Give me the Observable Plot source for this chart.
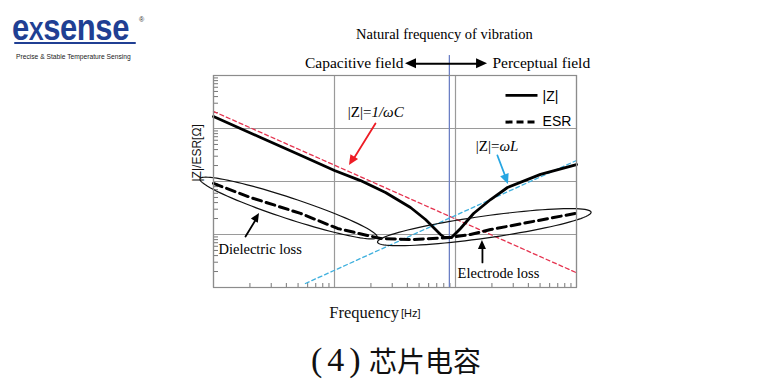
<!DOCTYPE html>
<html>
<head>
<meta charset="utf-8">
<script src="https://cdn.jsdelivr.net/npm/d3@7"></script>
<script src="https://cdn.jsdelivr.net/npm/@observablehq/plot@0.6"></script>
<style>
  body { margin: 0; background: #fff; }
  #wrap { position: relative; width: 780px; height: 390px; overflow: hidden; background: #fff; }
  #chart { position: absolute; left: 0; top: 0; }
  #brand { position: absolute; left: 12px; top: 10px; font: bold 36px/36px "Liberation Sans", Arial, sans-serif; color: #203f93; transform: scaleX(0.86); transform-origin: left top; letter-spacing: -0.5px; white-space: nowrap; }
  #brand .X { font-size: 26px; }
  #swoosh { position: absolute; left: 14px; top: 42px; width: 122px; height: 2px; background: #203f93; border-radius: 1px; }
  #tag { position: absolute; left: 16px; top: 52px; font: 6.7px/10px "Liberation Sans", Arial, sans-serif; color: #222; white-space: nowrap; }
  #reg { position: absolute; left: 139px; top: 16px; font: 7px/8px "Liberation Sans", Arial, sans-serif; color: #333; }
  #capnum { position: absolute; left: 311px; top: 343px; font: 34px/34px "Liberation Serif", serif; letter-spacing: 5px; color: #111; white-space: nowrap; }
  #captxt { position: absolute; left: 369px; top: 346px; font: 28px/28px "Noto Sans CJK SC", sans-serif; color: #111; white-space: nowrap; }
</style>
</head>
<body>
<div id="wrap">
  <div id="chart"></div>
  <div id="brand">e<span class="X">X</span>sense</div>
  <div id="swoosh"></div>
  <div id="reg">®</div>
  <div id="tag">Precise &amp; Stable Temperature Sensing</div>
  <div id="capnum">(4)</div>
  <div id="captxt">芯片电容</div>
</div>
<script>
// ---- data (frequency in Hz, impedance in Ω) ----
const freqZ = [1e5, 2.45e5, 5.24e5, 1e6, 1.64e6, 2.64e6, 4.25e6, 5.65e6, 7.52e6, 8.11e6, 9.27e6, 1.10e7, 1.41e7, 1.95e7, 2.69e7, 5.04e7, 1e8];
const valZ  = [16.8, 6.77, 3.12, 1.61, 1.04, 0.62, 0.323, 0.192, 0.10, 0.0877, 0.0877, 0.130, 0.249, 0.457, 0.771, 1.36, 2.09];

const freqESR = [1e5, 2.02e5, 5.24e5, 1.06e6, 1.87e6, 2.40e6, 4.25e6, 9.10e6, 1.33e7, 1.95e7, 3.94e7, 9.8e7];
const valESR  = [0.92, 0.50, 0.25, 0.13, 0.096, 0.084, 0.080, 0.088, 0.10, 0.124, 0.168, 0.25];

const freqC = [1e5, 1e8];      // |Z| = 1/ωC asymptote
const valC  = [21, 0.019];
const freqL = [5.75e5, 1e8];   // |Z| = ωL asymptote
const valL  = [0.0119, 2.49];

const resonance = 8.9e6;
const decadesX = [1e5, 1e6, 1e7, 1e8];
const decadesY = [0.01, 0.1, 1, 10, 100];
const minorMult = [2, 3, 4, 5, 6, 7, 8, 9];
const minorX = [1e5, 1e6, 1e7].flatMap(d => minorMult.map(k => k * d));
const minorY = [0.01, 0.1, 1, 10].flatMap(d => minorMult.map(k => k * d));

// ---- annotations (data coordinates) ----
const serif = "'Liberation Serif', 'Times New Roman', serif";
const sans = "'Liberation Sans', Arial, sans-serif";
const labels = [
  {f: 8.11e6, v: 609, text: "Natural frequency of vibration", anchor: "middle", size: 14.5, style: "normal", font: serif},
  {f: 3.72e6, v: 170, text: "Capacitive field", anchor: "end", size: 15.5, style: "normal", font: serif},
  {f: 2.02e7, v: 170, text: "Perceptual field", anchor: "start", size: 15.5, style: "normal", font: serif},
  {f: 2.02e6, v: 20, text: "|Z|=", anchor: "end", size: 15, style: "normal", font: serif},
  {f: 2.02e6, v: 20, text: "1/ωC", anchor: "start", size: 15, style: "italic", font: serif},
  {f: 2.31e7, v: 4.57, text: "|Z|=", anchor: "end", size: 15, style: "normal", font: serif},
  {f: 2.31e7, v: 4.57, text: "ωL", anchor: "start", size: 15, style: "italic", font: serif},
  {f: 1.10e5, v: 0.0534, text: "Dielectric loss", anchor: "start", size: 14.5, style: "normal", font: serif},
  {f: 1.04e7, v: 0.0184, text: "Electrode loss", anchor: "start", size: 14.5, style: "normal", font: serif},
  {f: 5.24e7, v: 39.3, text: "|Z|", anchor: "start", size: 14, style: "normal", font: sans},
  {f: 5.24e7, v: 13.4, text: "ESR", anchor: "start", size: 14, style: "normal", font: sans}
];
const legendLines = [
  {f1: 2.59e7, f2: 4.76e7, v: 42, dash: null},
  {f1: 2.59e7, f2: 4.76e7, v: 13.2, dash: "7,4"}
];
const arrows = [
  {f1: 2.18e6, v1: 12.4, f2: 1.33e6, v2: 2.0, color: "#ee1c25", len: 10, w: 4.5},
  {f1: 2.22e7, v1: 3.10, f2: 2.74e7, v2: 0.877, color: "#27a6e2", len: 10, w: 4.5},
  {f1: 1.84e5, v1: 0.0916, f2: 2.40e5, v2: 0.249, color: "#000000", len: 9, w: 4},
  {f1: 1.67e7, v1: 0.0297, f2: 1.67e7, v2: 0.0771, color: "#000000", len: 9, w: 4}
];
const doubleArrow = [{f1: 3.86e6, f2: 1.84e7, v: 166}];
const ellipses = [
  {center: [4.17e5, 0.316], major: [2.25e6, 0.0889], minor: [3.91e5, 0.205]},
  {center: [1.73e7, 0.1375], major: [1.32e8, 0.2637], minor: [1.78e7, 0.0855]}
];

const zRows = freqZ.map((f, i) => ({f, v: valZ[i]}));
const esrRows = freqESR.map((f, i) => ({f, v: valESR[i]}));
const cRows = freqC.map((f, i) => ({f, v: valC[i]}));
const lRows = freqL.map((f, i) => ({f, v: valL[i]}));

function ellipsePts(e, n = 96) {
  const L = Math.log10;
  const c = [L(e.center[0]), L(e.center[1])];
  const a = [L(e.major[0]) - c[0], L(e.major[1]) - c[1]];
  const b = [L(e.minor[0]) - c[0], L(e.minor[1]) - c[1]];
  return d3.range(n + 1).map(i => {
    const t = 2 * Math.PI * i / n;
    return {f: 10 ** (c[0] + Math.cos(t) * a[0] + Math.sin(t) * b[0]),
            v: 10 ** (c[1] + Math.cos(t) * a[1] + Math.sin(t) * b[1])};
  });
}

const plot = Plot.plot({
  width: 780,
  height: 330,
  marginLeft: 213,
  marginRight: 204,
  marginTop: 75,
  marginBottom: 43,
  style: {background: "transparent", fontFamily: serif, fontSize: "14px", color: "#777", overflow: "visible"},
  x: {type: "log", domain: [1e5, 1e8], ticks: minorX, tickSize: -4, tickFormat: () => "", label: null},
  y: {type: "log", domain: [0.01, 100], ticks: minorY, tickSize: -5, tickFormat: () => "", label: null},
  marks: [
    Plot.ruleX(decadesX, {stroke: "#9a9a9a", strokeWidth: 1.2}),
    Plot.ruleY(decadesY, {stroke: "#9a9a9a", strokeWidth: 1.2}),
    Plot.ruleX([resonance], {y1: 0.01, y2: 238, stroke: "#6b7fc4", strokeWidth: 1.3}),
    Plot.line(cRows, {x: "f", y: "v", stroke: "#e5334f", strokeWidth: 1.3, strokeDasharray: "4,3"}),
    Plot.line(lRows, {x: "f", y: "v", stroke: "#3fb0de", strokeWidth: 1.3, strokeDasharray: "4,3"}),
    Plot.line(esrRows, {x: "f", y: "v", stroke: "#000", strokeWidth: 3, strokeDasharray: "9,5"}),
    Plot.line(zRows, {x: "f", y: "v", stroke: "#000", strokeWidth: 2.8}),
    ...ellipses.map(e => Plot.line(ellipsePts(e), {x: "f", y: "v", stroke: "#111", strokeWidth: 1.2})),
    Plot.arrow(arrows, {x1: "f1", y1: "v1", x2: "f2", y2: "v2", stroke: "color", strokeWidth: 1.8, headLength: 0, insetEnd: 7}),
    Plot.arrow(doubleArrow, {x1: "f1", y1: "v", x2: "f2", y2: "v", stroke: "#000", strokeWidth: 2, headLength: 0, insetStart: 8, insetEnd: 8}),
    Plot.link(legendLines.filter(d => !d.dash), {x1: "f1", x2: "f2", y1: "v", y2: "v", stroke: "#000", strokeWidth: 2.8}),
    Plot.link(legendLines.filter(d => d.dash), {x1: "f1", x2: "f2", y1: "v", y2: "v", stroke: "#000", strokeWidth: 3, strokeDasharray: "7,4"}),
    ...labels.map(d => Plot.text([d], {x: "f", y: "v", text: "text", textAnchor: d.anchor, fontSize: d.size, fontStyle: d.style, fontFamily: d.font, fill: "#000"})),
    Plot.text(["|Z|/ESR[Ω]"], {frameAnchor: "left", dx: -16, rotate: -90, fontFamily: sans, fontSize: 12, fill: "#111"}),
    Plot.text(["Frequency"], {frameAnchor: "bottom", lineAnchor: "middle", dx: 4, dy: 25, textAnchor: "end", fontFamily: serif, fontSize: 16.5, fill: "#111"}),
    Plot.text(["[Hz]"], {frameAnchor: "bottom", lineAnchor: "middle", dx: 6, dy: 26, textAnchor: "start", fontFamily: sans, fontSize: 11, fill: "#111"}),
    Plot.frame({stroke: "#8c8c8c", strokeWidth: 1.2})
  ]
});

// filled arrowheads, placed through the plot's own scales
const sx = plot.scale("x"), sy = plot.scale("y");
const heads = [];
function head(xa, ya, xb, yb, len, w, color) {
  const ang = Math.atan2(yb - ya, xb - xa);
  const cx = xb - len * Math.cos(ang), cy = yb - len * Math.sin(ang);
  const nx = -Math.sin(ang) * w, ny = Math.cos(ang) * w;
  heads.push({pts: `${xb},${yb} ${cx + nx},${cy + ny} ${cx - nx},${cy - ny}`, color});
}
for (const a of arrows) {
  head(sx.apply(a.f1), sy.apply(a.v1), sx.apply(a.f2), sy.apply(a.v2), a.len, a.w, a.color);
}
for (const a of doubleArrow) {
  const x1 = sx.apply(a.f1), x2 = sx.apply(a.f2), y = sy.apply(a.v);
  head(x1, y, x2, y, 11, 5, "#000");
  head(x2, y, x1, y, 11, 5, "#000");
}
d3.select(plot).append("g").selectAll("polygon").data(heads).join("polygon")
  .attr("points", d => d.pts).attr("fill", d => d.color);

document.getElementById("chart").appendChild(plot);
</script>
</body>
</html>
